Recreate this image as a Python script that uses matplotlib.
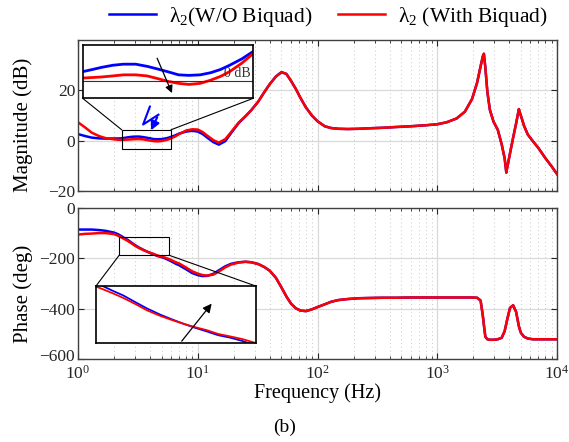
import numpy as np
import matplotlib
matplotlib.use('Agg')
import matplotlib.pyplot as plt
import matplotlib.transforms as mtransforms
from matplotlib.patches import Rectangle, ConnectionPatch

plt.rcParams['font.family'] = ['Liberation Serif', 'DejaVu Serif']
plt.rcParams['mathtext.fontset'] = 'custom'
plt.rcParams['mathtext.rm'] = 'Liberation Serif'
plt.rcParams['mathtext.it'] = 'Liberation Serif:italic'
plt.rcParams['axes.unicode_minus'] = True

# frequency points (Hz)
freq = [1, 1.15, 1.3, 1.5, 1.7, 2, 2.15, 2.3, 2.45, 2.6,
        2.8, 3, 3.25, 3.5, 3.75, 4, 4.3, 4.6, 4.95, 5.3,
        5.65, 6, 6.5, 7, 8, 9, 10, 11, 12, 13.5,
        15, 17, 19, 22, 25, 28, 32, 36, 40, 45,
        50, 55, 60, 66, 72, 80, 90, 100, 115, 130,
        150, 180, 220, 270, 350, 450, 600, 800, 1000, 1200,
        1450, 1700, 1950, 2150, 2300, 2400, 2450, 2520, 2620, 2750,
        2950, 3200, 3450, 3650, 3770, 3850, 4050, 4300, 4550, 4800,
        4900, 5000, 5300, 5700, 6300, 7000, 8000, 9000, 10000]

# magnitude (dB)
mag_blue = [2.6, 1.8, 1.2, 0.9, 0.8, 0.85, 0.85, 0.9, 1.1, 1.3,
            1.5, 1.6, 1.6, 1.4, 1.15, 0.9, 0.6, 0.55, 0.6, 0.8,
            1.1, 1.5, 2.1, 2.8, 3.6, 3.9, 3.6, 2.6, 1.2, -0.6,
            -1.6, -0.2, 3.0, 7.0, 9.6, 12.1, 15.5, 19.3, 22.5, 25.5,
            27.2, 26.5, 23.8, 20.5, 17.0, 13.2, 9.9, 7.7, 5.7, 5.0,
            4.7, 4.6, 4.7, 4.9, 5.1, 5.4, 5.7, 6.1, 6.5, 7.3,
            8.8, 11.5, 16.5, 23.0, 29.5, 33.5, 34.5, 29.0, 19.3, 12.2,
            7.5, 4.3, -1.5, -7.0, -12.7, -10.3, -5.0, 1.2, 6.8, 12.5,
            11.0, 9.8, 5.9, 2.4, -0.3, -3.0, -7.0, -10.2, -13.3]
mag_red = [7.3, 5.2, 3.2, 1.8, 1.0, 0.5, 0.35, 0.3, 0.35, 0.4,
           0.5, 0.6, 0.6, 0.5, 0.25, 0.0, -0.2, -0.3, -0.2, 0.1,
           0.45, 0.9, 1.7, 2.6, 4.0, 4.5, 4.4, 3.4, 2.0, 0.2,
           -0.8, 0.6, 3.4, 7.2, 9.7, 12.1, 15.5, 19.3, 22.5, 25.5,
           27.2, 26.5, 23.8, 20.5, 17.0, 13.2, 9.9, 7.7, 5.7, 5.0,
           4.7, 4.6, 4.7, 4.9, 5.1, 5.4, 5.7, 6.1, 6.5, 7.3,
           8.8, 11.5, 16.5, 23.0, 29.5, 33.5, 34.5, 29.0, 19.3, 12.2,
           7.5, 4.3, -1.5, -7.0, -12.7, -10.3, -5.0, 1.2, 6.8, 12.5,
           11.0, 9.8, 5.9, 2.4, -0.3, -3.0, -7.0, -10.2, -13.3]

# phase (deg)
ph_blue = [-86, -86, -86, -88, -91, -98, -104, -112, -120, -127,
           -138, -148, -158, -166, -173, -179, -185, -191, -195, -200,
           -206, -212, -221, -228, -244, -259, -267, -271, -270, -262,
           -248, -232, -222, -216, -214, -216, -223, -235, -250, -278,
           -316, -352, -380, -399, -408, -410, -403, -394, -383, -373,
           -366, -362, -359, -358, -357, -357, -356, -356, -356, -356,
           -356, -356, -356, -357, -368, -428, -465, -512, -522, -524,
           -524, -522, -516, -490, -460, -440, -397, -387, -413, -470,
           -485, -497, -512, -519, -522, -522, -522, -522, -522]
ph_red = [-106, -103, -102, -100, -100, -104, -110, -117, -124, -131,
          -141, -151, -160, -167, -173, -178, -183, -189, -193, -197,
          -202, -207, -215, -221, -237, -252, -261, -267, -269, -265,
          -253, -236, -225, -217, -214, -216, -223, -235, -250, -278,
          -316, -352, -380, -399, -408, -410, -403, -394, -383, -373,
          -366, -362, -359, -358, -357, -357, -356, -356, -356, -356,
          -356, -356, -356, -357, -368, -428, -465, -512, -522, -524,
          -524, -522, -516, -490, -460, -440, -397, -387, -413, -470,
          -485, -497, -512, -519, -522, -522, -522, -522, -522]

labels = ['\u03bb$_2$(W/O Biquad)', '\u03bb$_2$ (With Biquad)']
BLUE = '#0000ff'
RED = '#ff0000'

# zoom windows
mag_box = (2.32, 5.98, -3.5, 4.3)
ph_box = (2.21, 5.76, -188, -115)

fig = plt.figure(figsize=(5.69, 4.42), dpi=100)
ax1 = fig.add_axes([0.137, 0.568, 0.842, 0.3416])
ax2 = fig.add_axes([0.137, 0.188, 0.842, 0.3416])

for ax in (ax1, ax2):
    ax.set_xscale('log')
    ax.set_xlim(1, 1e4)
    ax.grid(True, which='major', color='#d9d9d9', lw=0.9, ls='-')
    ax.grid(True, which='minor', axis='x', color='#c8c8c8', lw=0.7, ls=(0, (1, 3)))
    ax.set_axisbelow(True)
    ax.tick_params(which='both', direction='in', top=True, right=True,
                   labelsize=12.5, colors='#262626')
    ax.tick_params(axis='y', pad=2)
    ax.tick_params(axis='x', pad=4)
    ax.tick_params(which='major', length=4, width=0.8)
    ax.tick_params(which='minor', length=2.2, width=0.6)
    for s in ax.spines.values():
        s.set_color('#404040')
        s.set_linewidth(1.0)

ax1.plot(freq, mag_blue, color=BLUE, lw=1.8, label=labels[0])
ax1.plot(freq, mag_red, color=RED, lw=1.8, label=labels[1])
ax1.set_ylim(-20, 40)
ax1.set_yticks([-20, 0, 20])
ax1.tick_params(labelbottom=False)
ax1.set_ylabel('Magnitude (dB)', fontsize=15)
ax1.yaxis.set_label_coords(-0.094, 0.44)

ax2.plot(freq, ph_blue, color=BLUE, lw=1.8)
ax2.plot(freq, ph_red, color=RED, lw=1.8)
ax2.set_ylim(-600, 0)
ax2.set_yticks([-600, -400, -200, 0])
ax2.set_ylabel('Phase (deg)', fontsize=15)
ax2.yaxis.set_label_coords(-0.094, 0.43)
ax2.set_xlabel('Frequency (Hz)', fontsize=14.5, labelpad=1)

# nudge the lowest phase label up so it clears the 10^0 label
fig.canvas.draw()
lab = ax2.get_yticklabels()[0]
lab.set_transform(lab.get_transform() +
                  mtransforms.ScaledTranslation(0, 3 / 72, fig.dpi_scale_trans))

# zoom rectangles
for ax, b in ((ax1, mag_box), (ax2, ph_box)):
    ax.add_patch(Rectangle((b[0], b[2]), b[1] - b[0], b[3] - b[2], fill=False,
                           ec='black', lw=0.8, zorder=5))

# magnitude inset
axin1 = fig.add_axes([0.1453, 0.7776, 0.2998, 0.1206])
axin1.plot(freq, mag_blue, color=BLUE, lw=2.0)
axin1.plot(freq, mag_red, color=RED, lw=2.0)
axin1.axhline(0, color='#333333', lw=0.8)
axin1.set_xscale('log')
axin1.set_xlim(2.3, 7.0)
axin1.set_ylim(-1.6, 3.4)
axin1.text(0.985, 0.35, '0 dB', transform=axin1.transAxes, ha='right', va='bottom',
           fontsize=10, color='#333333')
axin1.annotate('', xy=(0.53, 0.05), xytext=(0.43, 0.80), xycoords='axes fraction',
               arrowprops=dict(arrowstyle='-|>', color='black', lw=0.9,
                               mutation_scale=11))

# phase inset
axin2 = fig.add_axes([0.1687, 0.2233, 0.2807, 0.1296])
axin2.plot(freq, ph_blue, color=BLUE, lw=1.3)
axin2.plot(freq, ph_red, color=RED, lw=1.3)
axin2.set_xscale('log')
axin2.set_xlim(ph_box[0], ph_box[1])
axin2.set_ylim(-204, -112)
axin2.annotate('', xy=(0.735, 0.73), xytext=(0.526, 0.0), xycoords='axes fraction',
               arrowprops=dict(arrowstyle='-|>', color='black', lw=0.9,
                               mutation_scale=13))

for axin in (axin1, axin2):
    axin.set_xticks([])
    axin.set_yticks([])
    axin.minorticks_off()
    axin.set_facecolor('white')
    for s in axin.spines.values():
        s.set_color('black')
        s.set_linewidth(1.2)

# connector lines
for xa, xb in ((mag_box[0], 0), (mag_box[1], 1)):
    fig.add_artist(ConnectionPatch(xyA=(xa, mag_box[3]), coordsA=ax1.transData,
                                   xyB=(xb, 0), coordsB=axin1.transAxes,
                                   color='black', lw=0.8))
for xa, xb in ((ph_box[0], 0), (ph_box[1], 1)):
    fig.add_artist(ConnectionPatch(xyA=(xa, ph_box[2]), coordsA=ax2.transData,
                                   xyB=(xb, 1), coordsB=axin2.transAxes,
                                   color='black', lw=0.8))

# blue zig-zag arrow
ax1.plot([0.150, 0.136, 0.168], [0.558, 0.440, 0.505], color=BLUE, lw=1.5,
         transform=ax1.transAxes)
ax1.annotate('', xy=(0.150, 0.385), xytext=(0.168, 0.505), xycoords='axes fraction',
             arrowprops=dict(arrowstyle='-|>', color=BLUE, lw=1.5, mutation_scale=13))

fig.legend(loc='center', bbox_to_anchor=(0.577, 0.962), ncol=2, frameon=False,
           fontsize=15.5, handlelength=2.2, handletextpad=0.6, columnspacing=1.2)

fig.text(0.5, 0.034, '(b)', ha='center', va='center', fontsize=14)

fig.savefig('out.png', dpi=100)
